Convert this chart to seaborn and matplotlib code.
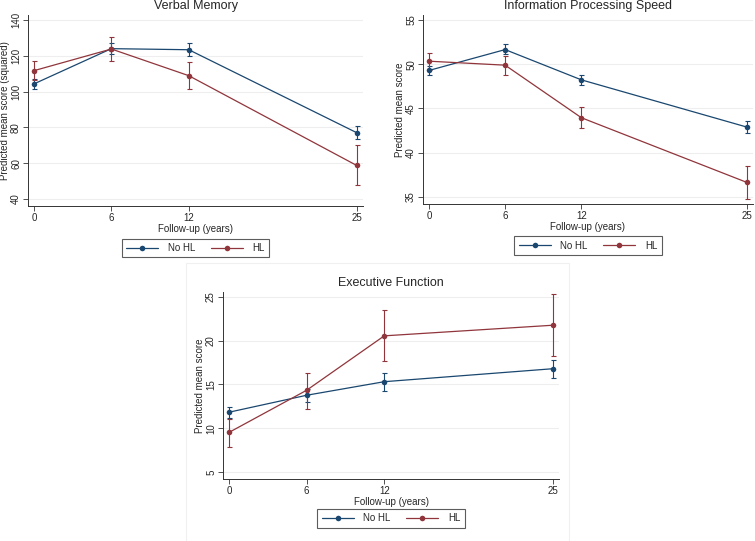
import seaborn as sns
import matplotlib.pyplot as plt
import pandas as pd
from matplotlib.patches import Rectangle
from matplotlib.lines import Line2D

years = [0, 6, 12, 25]
groups = ["No HL", "HL"]

# Verbal Memory
vm_nohl = [104.3, 124.0, 123.4, 77.1]
vm_nohl_lo = [101.3, 121.0, 119.9, 73.3]
vm_nohl_hi = [107.2, 127.3, 127.0, 80.8]
vm_hl = [111.7, 123.8, 108.9, 58.8]
vm_hl_lo = [106.5, 116.9, 101.3, 47.8]
vm_hl_hi = [116.9, 130.5, 116.5, 70.0]

# Information Processing Speed
ips_nohl = [49.29, 51.65, 48.23, 42.90]
ips_nohl_lo = [48.76, 51.13, 47.63, 42.22]
ips_nohl_hi = [49.74, 52.26, 48.76, 43.57]
ips_hl = [50.34, 49.89, 43.95, 36.65]
ips_hl_lo = [49.40, 48.80, 42.78, 34.81]
ips_hl_hi = [51.24, 50.94, 45.11, 38.46]

# Executive Function
ef_nohl = [11.83, 13.77, 15.32, 16.80]
ef_nohl_lo = [11.19, 13.00, 14.22, 15.74]
ef_nohl_hi = [12.48, 14.49, 16.35, 17.83]
ef_hl = [9.52, 14.34, 20.56, 21.77]
ef_hl_lo = [7.88, 12.21, 17.64, 18.25]
ef_hl_hi = [11.07, 16.35, 23.52, 25.34]

colors = {"No HL": "#1a476f", "HL": "#90353b"}

sns.set_theme(style="white")
plt.rcParams["font.family"] = ["Liberation Sans", "DejaVu Sans"]


def make_df(nohl, nohl_lo, nohl_hi, hl, hl_lo, hl_hi):
    rows = []
    for g, m, lo, hi in [("No HL", nohl, nohl_lo, nohl_hi), ("HL", hl, hl_lo, hl_hi)]:
        for i, y in enumerate(years):
            rows.append({"year": y, "group": g, "mean": m[i], "lo": lo[i], "hi": hi[i]})
    return pd.DataFrame(rows)


panels = [
    ("Verbal Memory", "Predicted mean score (squared)",
     make_df(vm_nohl, vm_nohl_lo, vm_nohl_hi, vm_hl, vm_hl_lo, vm_hl_hi),
     [40, 60, 80, 100, 120, 140], (36.1, 142.8), (28, 15, 363, 206), -0.145),
    ("Information Processing Speed", "Predicted mean score",
     make_df(ips_nohl, ips_nohl_lo, ips_nohl_hi, ips_hl, ips_hl_lo, ips_hl_hi),
     [35, 40, 45, 50, 55], (34.2, 55.56), (423, 15, 753, 204), -0.145),
    ("Executive Function", "Predicted mean score",
     make_df(ef_nohl, ef_nohl_lo, ef_nohl_hi, ef_hl, ef_hl_lo, ef_hl_hi),
     [5, 10, 15, 20, 25], (4.2, 25.57), (223, 292, 559, 479), -0.135),
]

W, H = 755, 541
fig = plt.figure(figsize=(W / 100, H / 100), dpi=100)

# faint graph-region frame around the lower panel
fig.patches.append(Rectangle((186 / W, 1 - 543 / H), (569 - 186) / W, (543 - 263) / H,
                             transform=fig.transFigure, fill=False,
                             edgecolor="#f0f0f0", linewidth=0.8))

for title, ylabel, df, yticks, ylim, (l, t, r, b), leg_y in panels:
    ax = fig.add_axes([l / W, 1 - b / H, (r - l) / W, (b - t) / H])
    for y in yticks:
        ax.axhline(y, color="#eeeeee", linewidth=0.8, zorder=0)
    sns.lineplot(data=df, x="year", y="mean", hue="group", hue_order=groups,
                 palette=colors, marker="o", markersize=4, markeredgewidth=0,
                 linewidth=0.9, legend=False, ax=ax, zorder=3)
    for g in groups:
        d = df[df["group"] == g]
        ax.errorbar(d["year"], d["mean"],
                    yerr=[d["mean"] - d["lo"], d["hi"] - d["mean"]],
                    fmt="none", ecolor=colors[g], elinewidth=0.8,
                    capsize=1.8, capthick=0.8, zorder=2)
    ax.set_xlim(-0.46, 25.5)
    ax.set_ylim(*ylim)
    ax.set_xticks(years)
    ax.set_yticks(yticks)
    ax.set_yticklabels([str(v) for v in yticks], rotation=90, va="center")
    ax.tick_params(axis="both", labelsize=7, length=3.5, width=0.6,
                   direction="out", color="#333333", pad=1.5)
    ax.tick_params(axis="x", bottom=True)
    ax.tick_params(axis="y", left=True)
    for s in ["top", "right"]:
        ax.spines[s].set_visible(False)
    for s in ["left", "bottom"]:
        ax.spines[s].set_color("#333333")
        ax.spines[s].set_linewidth(0.7)
    ax.set_title(title, fontsize=9, pad=4)
    ax.set_xlabel("Follow-up (years)", fontsize=7, labelpad=1)
    ax.set_ylabel(ylabel, fontsize=7, labelpad=1)
    handles = [Line2D([0], [0], color=colors[g], marker="o", markersize=4,
                      markeredgewidth=0, linewidth=0.9) for g in groups]
    leg = ax.legend(handles, groups, loc="upper center", bbox_to_anchor=(0.5, leg_y),
                    ncol=2, fontsize=7, frameon=True, fancybox=False,
                    handlelength=3.3, columnspacing=1.6, borderpad=0.45,
                    handletextpad=1.0, numpoints=1)
    leg.get_frame().set_edgecolor("#333333")
    leg.get_frame().set_linewidth(0.8)

fig.savefig("out.png", dpi=100)
